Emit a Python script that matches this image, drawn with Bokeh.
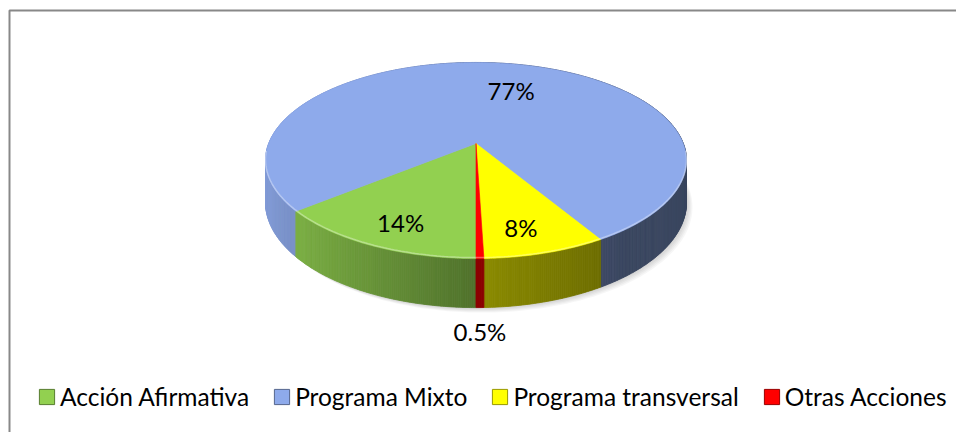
import numpy as np
from bokeh.plotting import figure
from bokeh.models import Range1d, Legend, LegendItem
from bokeh.embed import file_html
from bokeh.resources import INLINE
from bokeh.core.properties import value

# ---------------- data ----------------
categories = ["Acción Afirmativa", "Programa Mixto", "Programa transversal", "Otras Acciones"]
values = [14, 77, 8, 0.5]
labels = ["14%", "77%", "8%", "0.5%"]
colors = ["#92d050", "#8eaaeb", "#ffff00", "#ff0000"]

# ---------------- layout / style ----------------
W, H = 956, 432
FONT = "Lato"
LABEL_SIZE = "24px"
LEGEND_SIZE = "24.5px"
CX, CY = 475.5, 143.0      # apex of the pie (canvas px)
A, B = 207.3, 95.1         # perspective radii
E = 0.1736                 # perspective strength
DEPTH = 40.5               # slab thickness
START = 180.0              # first slice starts at 6 o'clock
label_r = [0.75, 0.62, 0.75, None]
label_nudge = [(0, 8), (15, 2), (-5, 8), (0, 0)]
OUT_GAP = 26
BASELINE_SHIFT = -2

p = figure(width=W, height=H, x_range=Range1d(0, W), y_range=Range1d(H, 0),
           output_backend="svg", toolbar_location=None, min_border=0)
p.axis.visible = False
p.grid.visible = False
p.outline_line_color = None
p.background_fill_color = "white"


def proj(theta, r=1.0):
    t = np.radians(theta)
    X = r * np.sin(t)
    Z = -r * np.cos(t)
    d = 1 - E * Z
    return CX + A * X / d, CY + B * Z / d, d


def shade(hexcol, f):
    h = hexcol.lstrip("#")
    rgb = [int(h[i:i + 2], 16) for i in (0, 2, 4)]
    return "#%02x%02x%02x" % tuple(max(0, min(255, int(round(c * f)))) for c in rgb)


def factor(X):
    if X < 0:
        return 0.55 - 0.38 * X
    return max(0.41, 0.55 - 0.23 * X)


total = float(sum(values))
spans = [v / total * 360.0 for v in values]
starts = [START + sum(spans[:i]) for i in range(len(values))]

# chart border (top and left edges visible)
p.line(x=[9, 9, W], y=[H, 10, 10], line_color="#888888", line_width=2)

# soft shadow
th_all = np.linspace(0, 360, 361)
bx, by, bd = proj(th_all)
by = by + DEPTH / bd
for k in range(1, 6):
    p.patch(x=list(bx + k * 1.2), y=list(by + k * 1.0), fill_color="#000000",
            fill_alpha=0.035, line_color=None)

# side strips
quads = []
for i in range(len(values)):
    a0, a1 = starts[i], starts[i] + spans[i]
    n = max(2, int(np.ceil((a1 - a0) / 0.5)))
    th = np.linspace(a0, a1, n + 1)
    for j in range(n):
        ta, tb = th[j], th[j + 1]
        xa, ya, da = proj(ta)
        xb, yb, db = proj(tb)
        tm = np.radians((ta + tb) / 2)
        Xm, Zm = np.sin(tm), -np.cos(tm)
        col = shade(colors[i], factor(Xm))
        quads.append((Zm, [xa, xb, xb, xa], [ya, yb, yb + DEPTH / db, ya + DEPTH / da], col))
quads.sort(key=lambda q: q[0])
p.patches(xs=[q[1] for q in quads], ys=[q[2] for q in quads],
          fill_color=[q[3] for q in quads], line_color=[q[3] for q in quads], line_width=0.8)

# top faces
for i in range(len(values)):
    a0, a1 = starts[i], starts[i] + spans[i]
    n = max(2, int(np.ceil((a1 - a0) / 0.5)))
    th = np.linspace(a0, a1, n + 1)
    x, y, _ = proj(th)
    xs = [CX] + list(x)
    ys = [CY] + list(y)
    p.patch(x=xs, y=ys, fill_color=colors[i], line_color=colors[i], line_width=0.6)

# light rim along the front top edge
th = np.linspace(95, 265, 200)
x, y, _ = proj(th)
p.line(x=list(x), y=list(y - 1), line_color="white", line_alpha=0.35, line_width=1.5)

# data labels
lx, ly, lt = [], [], []
for i in range(len(values)):
    mid = starts[i] + spans[i] / 2
    if label_r[i] is not None:
        x, y, _ = proj(mid, label_r[i])
    else:
        x, y, d = proj(mid, 1.0)
        y = y + DEPTH / d + OUT_GAP
    lx.append(float(x) + label_nudge[i][0])
    ly.append(float(y) + label_nudge[i][1] + BASELINE_SHIFT)
    lt.append(labels[i])
p.text(x=lx, y=ly, text=lt, text_align="center", text_baseline="alphabetic",
       text_font=value(FONT), text_font_size=LABEL_SIZE, text_color="#000000")

# legend (swatches drawn by off-screen proxy renderers)
items = []
for i, cat in enumerate(categories):
    r = p.rect(x=[-500], y=[-500], width=1, height=1, fill_color=colors[i],
               line_color=shade(colors[i], 0.6), line_width=1)
    items.append(LegendItem(label=cat, renderers=[r]))
legend = Legend(items=items, orientation="horizontal", location=(37, 21),
                padding=0, margin=0, spacing=23, label_standoff=4,
                glyph_width=19, glyph_height=19, border_line_color=None,
                background_fill_alpha=0, label_text_font=FONT,
                label_text_font_size=LEGEND_SIZE, label_text_color="#000000")
p.add_layout(legend)

open("out.html", "w").write(file_html(p, INLINE))
